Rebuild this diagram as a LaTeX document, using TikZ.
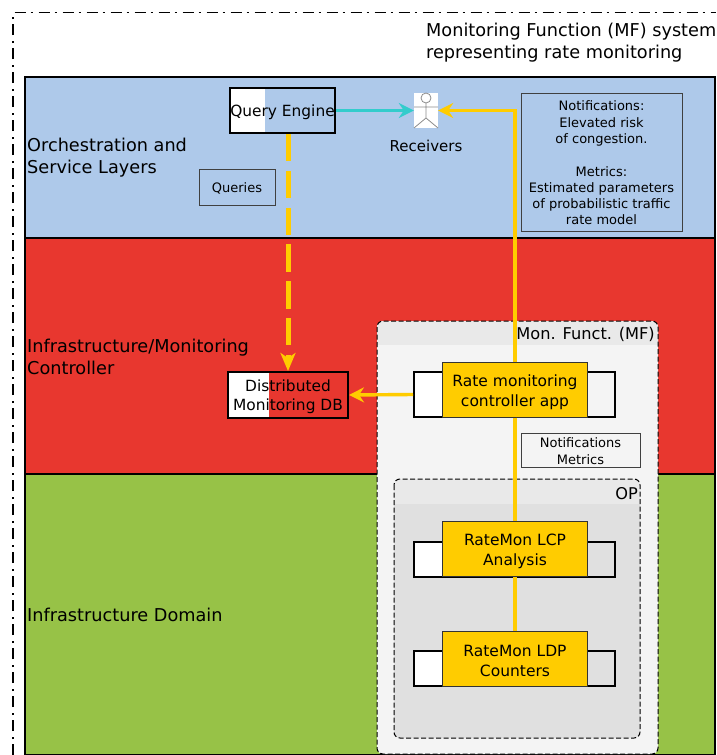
\documentclass[tikz,border=0pt]{standalone}
\usepackage{fontspec}
\setmainfont{DejaVu Sans}
\usetikzlibrary{arrows.meta}
\definecolor{bluelayer}{HTML}{AEC9EA}
\definecolor{redlayer}{HTML}{E8372F}
\definecolor{greenlayer}{HTML}{97C247}
\definecolor{yel}{HTML}{FFCC00}
\definecolor{cyanline}{HTML}{33CCCC}
\definecolor{hdr}{HTML}{E9E9E9}
\definecolor{mfbody}{HTML}{F4F4F4}
\definecolor{opbody}{HTML}{E0E0E0}
\newcommand\pushln[1]{\mbox{}\\[\dimexpr#1pt-\baselineskip\relax]}
\tikzset{
  x=1pt,y=-1pt,
  lab/.style={inner sep=0pt,font=\fontsize{17.7}{22}\selectfont,align=left},
  layer/.style={draw=black,line width=2pt},
  sized/.style n args={2}{minimum width=#1pt,minimum height=#2pt,inner sep=0pt},
  thickbox/.style={draw=black,line width=2pt,fill=none,align=center,font=\fontsize{15.4}{19.5}\selectfont},
  yelbox/.style={draw=black!80,line width=1pt,fill=yel,align=center,font=\fontsize{15.5}{20}\selectfont},
  note/.style={draw=black!75,line width=1pt,align=center,font=\fontsize{13}{16.3}\selectfont},
  hdrtext/.style={inner sep=0pt,anchor=east,font=\fontsize{16.2}{18}\selectfont},
  conn/.style={yel,line width=3.4pt},
  head/.style={-{Stealth[length=15pt,width=15pt,inset=5pt]}},
  actorline/.style={draw=black!45,line width=.8pt},
  dashedbox/.style={draw=black,line width=1pt,dash pattern=on 5pt off 2.5pt,rounded corners=6pt},
}
\begin{document}
\begin{tikzpicture}
\useasboundingbox (0,0) rectangle (716,755);
\begin{scope}
\clip (0,0) rectangle (716,755);
% outer system boundary
\draw[line width=1.6pt,dash pattern=on 11pt off 5pt on 2pt off 6pt] (13,755) -- (13,12.5) -- (716,12.5);
% layers
\path[layer,fill=bluelayer] (24.5,76.5) rectangle (715,238);
\path[layer,fill=redlayer] (24.5,238) rectangle (715,474);
\path[layer,fill=greenlayer] (24.5,474) rectangle (715,754.5);
% MF container
\fill[mfbody,rounded corners=6pt] (377,321) rectangle (658,754);
\fill[hdr,rounded corners=6pt] (377,321) rectangle (658,350);
\fill[mfbody] (377,345) rectangle (658,352);
\draw[dashedbox] (377,321) rectangle (658,754);
% OP container
\fill[opbody,rounded corners=6pt] (394,479) rectangle (640,738);
\fill[hdr,rounded corners=6pt] (394,479) rectangle (640,510);
\fill[opbody] (394,504) rectangle (640,512);
\draw[dashedbox] (394,479) rectangle (640,738);
\end{scope}
% layer labels
\node[lab,anchor=west] (orch) at (27,158) {Orchestration and\\Service Layers};
\node[lab,anchor=west] (ctrl) at (27,357) {Infrastructure/Monitoring\\Controller};
\node[lab,anchor=west] (dom) at (27,614.5) {Infrastructure Domain};
\node[lab,anchor=west] (sys) at (426,43) {Monitoring Function (MF) system\\representing rate monitoring};
\node[hdrtext] (mfl) at (655,334) {Mon. Funct. (MF)};
\node[hdrtext] (opl) at (638,494) {OP};
% white parts
\fill[white] (230,88) rectangle (265,133);
\fill[white] (228,372) rectangle (269,418);
\fill[white] (414,372) rectangle (442,417);
\fill[white] (414,542) rectangle (442,577);
\fill[white] (414,651) rectangle (442,686);
% boxes
\node[thickbox,sized={105}{45}] (qe) at (282.5,110.5) {\pushln{15}Query Engine};
\node[thickbox,sized={120}{46}] (db) at (288,395) {\pushln{15}Distributed\\Monitoring DB};
\node[thickbox,sized={201}{45}] (rmo) at (514.5,394.5) {};
\node[thickbox,sized={201}{35}] (lcpo) at (514.5,559.5) {};
\node[thickbox,sized={201}{35}] (ldpo) at (514.5,668.5) {};
\node[note,sized={161}{138}] (nbox) at (601.5,162) {\pushln{12}Notifications:\\Elevated risk\\of congestion.\\[16.3pt]Metrics:\\Estimated parameters\\of probabilistic traffic\\rate model};
\node[note,sized={76}{36}] (qbox) at (237,187) {\pushln{13}Queries};
\node[note,sized={119}{34}] (nm) at (580.5,450) {\pushln{12}Notifications\\Metrics};
% actor
\node[fill=white,sized={24}{35}] (recv) at (426,110.5) {};
\draw[actorline] (426,98) circle (5);
\draw[actorline] (426,103) -- (426,118) (414,107) -- (438,107) (414,128) -- (426,118) -- (438,128);
\node[inner sep=0pt,font=\fontsize{15}{18}\selectfont] (rl) at (426,145.5) {Receivers};
% yellow boxes
\node[yelbox,sized={145}{55}] (rm) at (515,389.5) {\pushln{18}Rate monitoring\\controller app};
\node[yelbox,sized={145}{55}] (lcp) at (515,549) {\pushln{17}RateMon LCP\\Analysis};
\node[yelbox,sized={145}{55}] (ldp) at (515,658.5) {\pushln{17}RateMon LDP\\Counters};
% connectors
\draw[conn,head] (rm.north) |- (recv.east);
\draw[conn,head] (rmo.west) -- (db.east);
\draw[conn] (rm.south) -- (lcp.north);
\draw[conn] (lcp.south) -- (ldp.north);
\draw[cyanline,line width=3pt,head] (qe.east) -- (recv.west);
\draw[yel,line width=5pt,dash pattern=on 27.3pt off 9.5pt,-{Stealth[length=18pt,width=15pt,inset=5pt]}] (db.north |- qe.south) -- (db.north);
\end{tikzpicture}
\end{document}
